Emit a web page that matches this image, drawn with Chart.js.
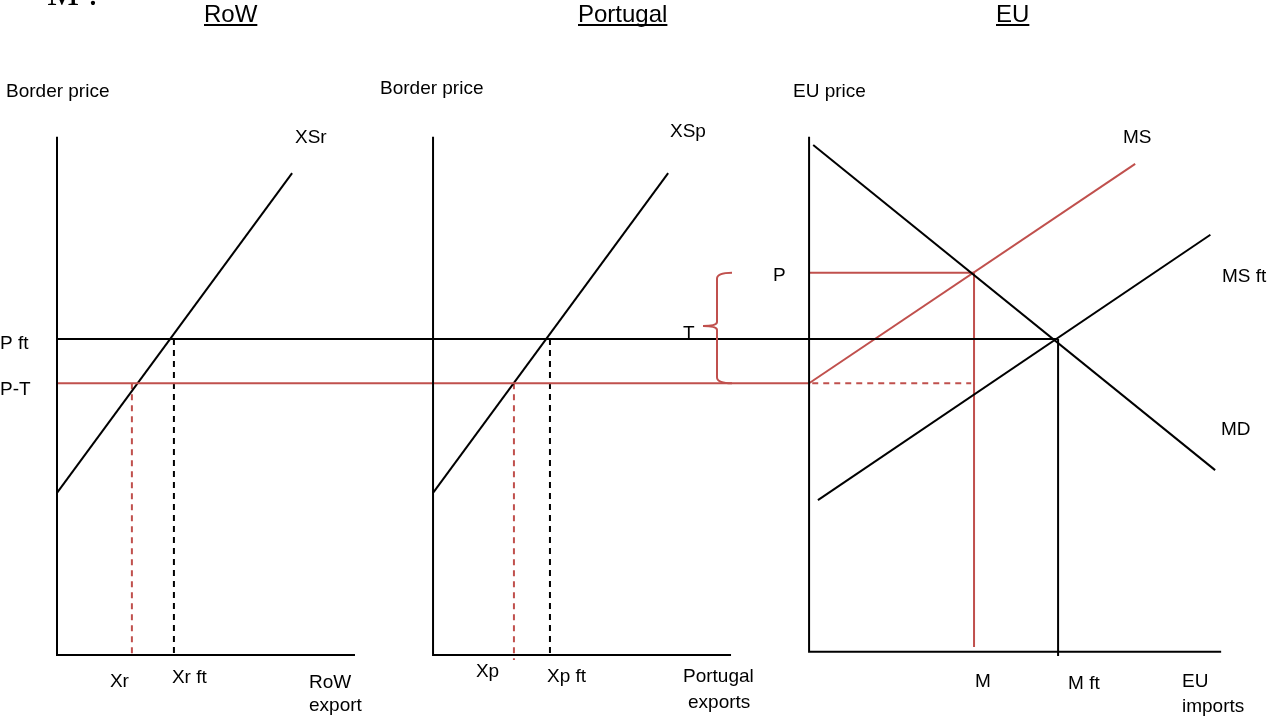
<!DOCTYPE html>
<html>
<head>
<meta charset="utf-8">
<script src="https://cdn.jsdelivr.net/npm/chart.js@4.4.1/dist/chart.umd.min.js"></script>
<style>
  html, body { margin: 0; padding: 0; background: #fff; }
  #wrap { width: 1268px; height: 720px; }
</style>
</head>
<body>
<div id="wrap"><canvas id="chart" width="1268" height="720"></canvas></div>
<script>
// price levels shared by the three panels
const P_FT = 10;
const P_T = 8.6;
const P_EU = 12.1;

// curves, panel-local [quantity, price]
const xsrCurve = [[0, 5.13], [7.44, 15.25]];
const xspCurve = [[0, 5.13], [7.44, 15.25]];
const mdCurve = [[0.13, 16.14], [12.85, 5.85]];
const msCurve = [[0, 8.6], [10.32, 15.54]];
const msFtCurve = [[0.28, 4.9], [12.7, 13.3]];

// quantities marked on the horizontal axes
const rowLabels = ['Xr', 'Xr ft'];
const rowQty = [2.37, 3.70];
const ptLabels = ['Xp', 'Xp ft'];
const ptQty = [2.56, 3.70];
const euLabels = ['M', 'M ft'];
const euQty = [5.22, 7.88];

// axis extents
const axisTop = 16.4;
const axisLen = [9.43, 9.43, 13.04];
const euBase = 0.1;

// layout
const W = 1268, H = 720;
const PX = 31.6;              // pixels per unit
const ORIGIN_X = 57, ORIGIN_Y = 655;
const panelOrigin = [0, 11.9, 23.8];
const RED = '#c0504d';
const BLACK = '#000000';
const FONT = '19px "Liberation Sans", Arial, sans-serif';

const datasets = [];
function seg(panel, pts, color, dashed) {
  datasets.push({
    data: pts.map(p => ({ x: p[0] + panelOrigin[panel], y: p[1] })),
    borderColor: color,
    borderWidth: 2,
    borderDash: dashed ? [6, 5] : [],
    showLine: true,
    pointRadius: 0,
    tension: 0,
    fill: false
  });
}

// axes
seg(0, [[0, axisTop], [0, 0], [axisLen[0], 0]], BLACK);
seg(1, [[0, axisTop], [0, 0], [axisLen[1], 0]], BLACK);
seg(2, [[0, axisTop], [0, euBase], [axisLen[2], euBase]], BLACK);

// price lines running across panels
seg(0, [[0, P_FT], [panelOrigin[2] + euQty[1], P_FT]], BLACK);
seg(0, [[0, P_T], [panelOrigin[2], P_T]], RED);

// RoW
seg(0, xsrCurve, BLACK);
seg(0, [[rowQty[0], P_T], [rowQty[0], 0]], RED, true);
seg(0, [[rowQty[1], P_FT], [rowQty[1], 0]], BLACK, true);

// Portugal
seg(1, xspCurve, BLACK);
seg(1, [[ptQty[0], P_T], [ptQty[0], -0.16]], RED, true);
seg(1, [[ptQty[1], P_FT], [ptQty[1], 0]], BLACK, true);

// EU
seg(2, mdCurve, BLACK);
seg(2, msFtCurve, BLACK);
seg(2, msCurve, RED);
seg(2, [[0, P_EU], [euQty[0], P_EU]], RED);
seg(2, [[euQty[0], P_EU], [euQty[0], 0.25]], RED);
seg(2, [[0.1, P_T], [5.13, P_T]], RED, true);
seg(2, [[euQty[1], P_FT], [euQty[1], -0.03]], BLACK);

const textPlugin = {
  id: 'texts',
  afterDraw(chart) {
    const { ctx, scales: { x, y } } = chart;
    ctx.save();
    ctx.fillStyle = BLACK;
    ctx.textBaseline = 'alphabetic';
    ctx.textAlign = 'left';

    // cut-off heading at the very top
    ctx.font = '36px "Liberation Serif", serif';
    ctx.fillText('M :', 47, 5);

    // panel titles, underlined
    ctx.font = '24px "Liberation Sans", Arial, sans-serif';
    [['RoW', 204], ['Portugal', 578], ['EU', 996]].forEach(([t, lx]) => {
      ctx.fillText(t, lx, 22);
      ctx.fillRect(lx, 24, ctx.measureText(t).width, 2);
    });

    ctx.font = FONT;
    const put = (t, lx, by) => ctx.fillText(t, lx, by);
    put('Border price', 6, 97);
    put('Border price', 380, 94);
    put('EU price', 793, 97);
    put('XSr', 295, 143);
    put('XSp', 670, 137);
    put('MS', 1123, 143);
    put('MS ft', 1222, 282);
    put('MD', 1221, 435);
    put('P', 773, y.getPixelForValue(P_EU) + 8);
    put('T', 683, y.getPixelForValue(P_FT));
    put('P ft', 0, y.getPixelForValue(P_FT) + 10);
    put('P-T', 0, y.getPixelForValue(P_T) + 12);

    // quantity labels under the axes
    const tickDx = [[-22, -2], [-38, -3], [1, 10]];
    const tickBase = [[687, 683], [677, 682], [687, 689]];
    [[rowLabels, rowQty], [ptLabels, ptQty], [euLabels, euQty]].forEach(([labs, qs], p) => {
      labs.forEach((t, i) => {
        put(t, x.getPixelForValue(panelOrigin[p] + qs[i]) + tickDx[p][i], tickBase[p][i]);
      });
    });
    put('RoW', 309, 688);
    put('export', 309, 711);
    put('Portugal', 683, 682);
    put('exports', 688, 708);
    put('EU', 1182, 687);
    put('imports', 1182, 712);

    // brace marking the tariff T
    const yt = y.getPixelForValue(P_EU), yb = y.getPixelForValue(P_T);
    const ym = (yt + yb) / 2 - 2;
    const bx = 717;
    ctx.strokeStyle = RED;
    ctx.lineWidth = 2;
    ctx.beginPath();
    ctx.moveTo(bx + 15, yt);
    ctx.quadraticCurveTo(bx, yt, bx, yt + 6);
    ctx.lineTo(bx, ym - 4);
    ctx.quadraticCurveTo(bx, ym, bx - 14, ym);
    ctx.quadraticCurveTo(bx, ym, bx, ym + 4);
    ctx.lineTo(bx, yb - 6);
    ctx.quadraticCurveTo(bx, yb, bx + 15, yb);
    ctx.stroke();
    ctx.restore();
  }
};

new Chart(document.getElementById('chart'), {
  type: 'scatter',
  data: { datasets },
  options: {
    responsive: false,
    animation: false,
    layout: { padding: 0 },
    plugins: { legend: { display: false }, tooltip: { enabled: false } },
    scales: {
      x: { type: 'linear', display: false, min: -ORIGIN_X / PX, max: (W - ORIGIN_X) / PX },
      y: { type: 'linear', display: false, min: -(H - ORIGIN_Y) / PX, max: ORIGIN_Y / PX }
    }
  },
  plugins: [textPlugin]
});
</script>
</body>
</html>
